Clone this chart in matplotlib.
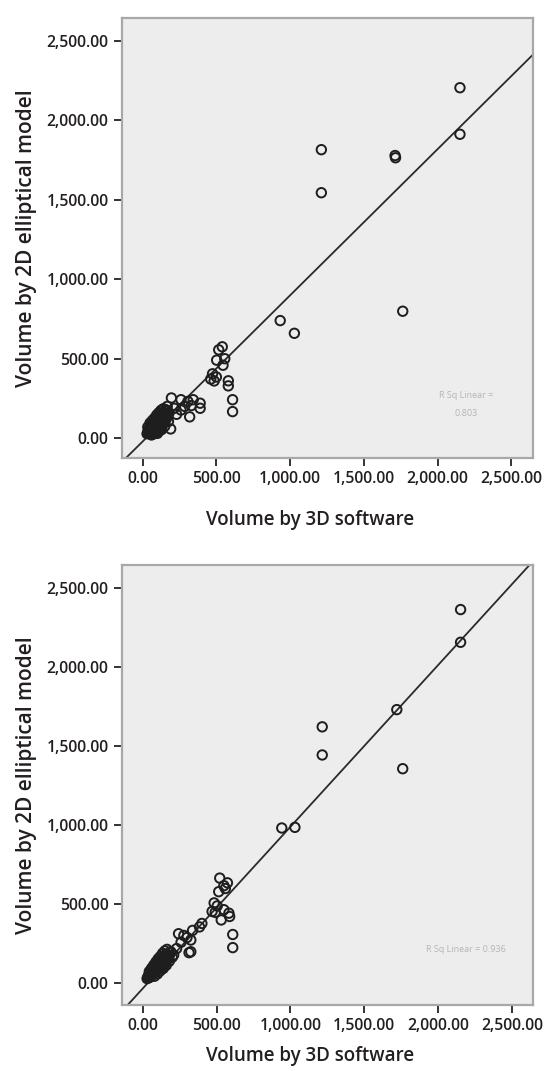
import matplotlib
matplotlib.use("Agg")
import matplotlib.pyplot as plt
from matplotlib.ticker import FuncFormatter
from matplotlib import font_manager as fm
import numpy as np

# ---------------- data ----------------
ticks = [0, 500, 1000, 1500, 2000, 2500]

top_x = [2152, 2152, 1212, 1212, 1712, 1715, 1764, 933, 1029,
         516, 540, 502, 557, 545, 474, 462, 500, 485, 581, 581, 610, 610,
         195, 260, 307, 343, 390, 390, 260, 319, 214, 167, 119, 143, 190, 285, 330, 230,
         30, 35, 38, 40, 42, 45, 48, 50, 52, 55, 58, 60, 62, 65, 68, 70, 72, 75, 78, 80,
         82, 85, 88, 90, 92, 95, 98, 100, 105, 108, 110, 112, 115, 118, 120, 125, 128,
         130, 135, 140, 145, 150, 155, 160, 165, 170, 175, 180, 60, 80, 100, 120, 140,
         40, 45, 50, 55, 60, 65, 70, 75, 80, 85, 90, 95, 100, 105, 110, 115, 120, 125,
         130, 135, 140, 50, 60, 70, 80, 90, 100, 110, 120, 130, 45, 55, 65, 75, 85, 95,
         105, 115, 125, 135,
         35, 50, 65, 80, 95, 110, 125, 140, 155, 70, 90, 110, 130, 150, 100, 120, 60]
top_y = [2206, 1913, 1816, 1545, 1779, 1765, 799, 740, 660,
         556, 575, 491, 500, 459, 405, 372, 385, 360, 361, 329, 242, 167,
         253, 242, 231, 242, 220, 188, 177, 134, 188, 200, 156, 134, 58, 200, 205, 150,
         28, 40, 30, 45, 35, 52, 40, 60, 38, 48, 65, 50, 45, 70, 55, 62, 80, 58, 75, 68,
         90, 72, 95, 65, 85, 100, 78, 110, 88, 120, 95, 130, 100, 140, 105, 115, 150,
         98, 125, 110, 160, 130, 150, 120, 170, 140, 105, 160, 30, 100, 70, 60, 90,
         50, 35, 55, 62, 42, 75, 48, 85, 58, 95, 80, 70, 125, 82, 105, 90, 135, 130,
         80, 145, 125, 70, 85, 40, 105, 50, 92, 140, 78, 110, 60, 30, 88, 95, 50, 120,
         65, 85, 95, 150,
         70, 95, 110, 125, 145, 160, 175, 185, 180, 25, 35, 45, 55, 75, 30, 50, 20]

bot_x = [2153, 2153, 1721, 1216, 1216, 1761, 942, 1031,
         522, 574, 550, 515, 484, 491, 550, 584, 532, 589, 470, 505, 560,
         610, 610,
         401, 385, 338, 326, 326, 314, 279, 243, 300, 260, 230, 210, 190, 175,
         30, 35, 40, 42, 45, 48, 50, 55, 58, 60, 62, 65, 68, 70, 72, 75, 78, 80, 85, 88,
         90, 95, 98, 100, 105, 110, 115, 120, 125, 130, 135, 140, 145, 150, 155, 160,
         165, 170, 180, 190, 70, 90, 110, 130, 150,
         40, 45, 50, 55, 60, 65, 70, 75, 80, 85, 90, 95, 100, 105, 110, 115, 120, 125,
         130, 135, 140, 150, 160, 170, 50, 60, 70, 80, 90, 100, 110, 120, 130, 140,
         150, 160,
         45, 60, 75, 90, 105, 120, 135, 150, 165, 80, 100, 120, 140, 160, 180, 200]
bot_y = [2365, 2158, 1732, 1623, 1445, 1358, 983, 987,
         666, 636, 618, 580, 509, 449, 466, 444, 401, 423, 455, 490, 600,
         309, 226,
         379, 357, 335, 274, 200, 194, 303, 314, 290, 260, 220, 180, 200, 165,
         30, 40, 35, 50, 42, 55, 48, 60, 52, 68, 58, 72, 62, 80, 66, 85, 75, 90, 82, 100,
         88, 105, 95, 115, 100, 120, 110, 130, 118, 140, 125, 150, 135, 160, 145, 170,
         150, 180, 175, 195, 95, 120, 140, 105, 120,
         50, 38, 62, 45, 72, 55, 88, 65, 100, 72, 110, 85, 125, 92, 132, 100, 145, 112,
         155, 120, 165, 140, 185, 160, 40, 55, 60, 72, 78, 90, 95, 105, 115, 128,
         160, 150,
         75, 95, 115, 135, 155, 170, 190, 205, 215, 45, 60, 80, 95, 115, 140, 165]

# fit lines (slope, intercept)
top_fit = (0.92, -21.0)
bot_fit = (1.023, -33.0)
top_r2 = ["R Sq Linear =", "0.803"]
bot_r2 = ["R Sq Linear = 0.936"]

xlabel = "Volume by 3D software"
ylabel = "Volume by 2D elliptical model"

# ---------------- style ----------------
FONT = "Open Sans"
TXT = "#231f20"
plt.rcParams["font.family"] = [FONT, "DejaVu Sans"]

# look for a semibold Open Sans face; fall back to bold
semi_path = None
for f in fm.fontManager.ttflist:
    if "Open Sans" in f.name and str(f.weight) in ("600", "semibold", "demibold", "demi") \
            and f.style == "normal" and "Condensed" not in f.fname:
        semi_path = f.fname
        break
if semi_path is None:
    for f in fm.fontManager.ttflist:
        if "SemiBold" in f.fname and "OpenSans" in f.fname.replace(" ", "") \
                and "Italic" not in f.fname and "Condensed" not in f.fname:
            semi_path = f.fname
            break


def fprop(size):
    if semi_path:
        return fm.FontProperties(fname=semi_path, size=size)
    return fm.FontProperties(family=FONT, weight="bold", size=size)


fig = plt.figure(figsize=(5.48, 10.71), dpi=100)
fig.patch.set_facecolor("white")

W, H = 548.0, 1071.0
left_px, right_px = 121.7, 532.5
panels = [
    dict(top=18.3, bottom=458.0, xs=top_x, ys=top_y, fit=top_fit, r2=top_r2,
         xlim=(-142, 2644), ylim=(-125, 2643), xlab_y=520.0, r2_xy=(466, 395)),
    dict(top=565.0, bottom=1005.0, xs=bot_x, ys=bot_y, fit=bot_fit, r2=bot_r2,
         xlim=(-142, 2640), ylim=(-137, 2647), xlab_y=1056.0, r2_xy=(466, 950)),
]

fmt = FuncFormatter(lambda v, p: f"{v:,.2f}")

for pnl in panels:
    ax = fig.add_axes([left_px / W, 1 - pnl["bottom"] / H,
                       (right_px - left_px) / W, (pnl["bottom"] - pnl["top"]) / H])
    ax.set_facecolor("#ededed")
    ax.set_xlim(*pnl["xlim"])
    ax.set_ylim(*pnl["ylim"])
    ax.set_xticks(ticks)
    ax.set_yticks(ticks)
    ax.xaxis.set_major_formatter(fmt)
    ax.yaxis.set_major_formatter(fmt)
    for s in ax.spines.values():
        s.set_color("#a8a8a8")
        s.set_linewidth(1.6)
    ax.tick_params(axis="both", length=6, width=1.4, color="#333333",
                   labelcolor=TXT, pad=3.5)
    for lab in ax.get_xticklabels() + ax.get_yticklabels():
        lab.set_fontproperties(fprop(11.3))

    # fit line
    xl = np.array(pnl["xlim"], dtype=float)
    m, b = pnl["fit"]
    ax.plot(xl, m * xl + b, color="#2a2a2a", lw=1.3, zorder=2, clip_on=True)

    ax.scatter(pnl["xs"], pnl["ys"], s=46, facecolors="none", edgecolors="#1e1e1e",
               linewidths=1.4, zorder=3)

    # faint R-squared annotation
    rx, ry = pnl["r2_xy"]
    for i, line in enumerate(pnl["r2"]):
        fig.text(rx / W, 1 - (ry + i * 18) / H, line, ha="center", va="center",
                 fontsize=6.5, color="#b5b5b5")

    ax.set_ylabel(ylabel, fontproperties=fprop(15), color=TXT, labelpad=7)
    fig.text(310 / W, 1 - pnl["xlab_y"] / H, xlabel, ha="center", va="center",
             fontproperties=fprop(13.5), color=TXT)

fig.savefig("out.png", dpi=100, facecolor="white")
